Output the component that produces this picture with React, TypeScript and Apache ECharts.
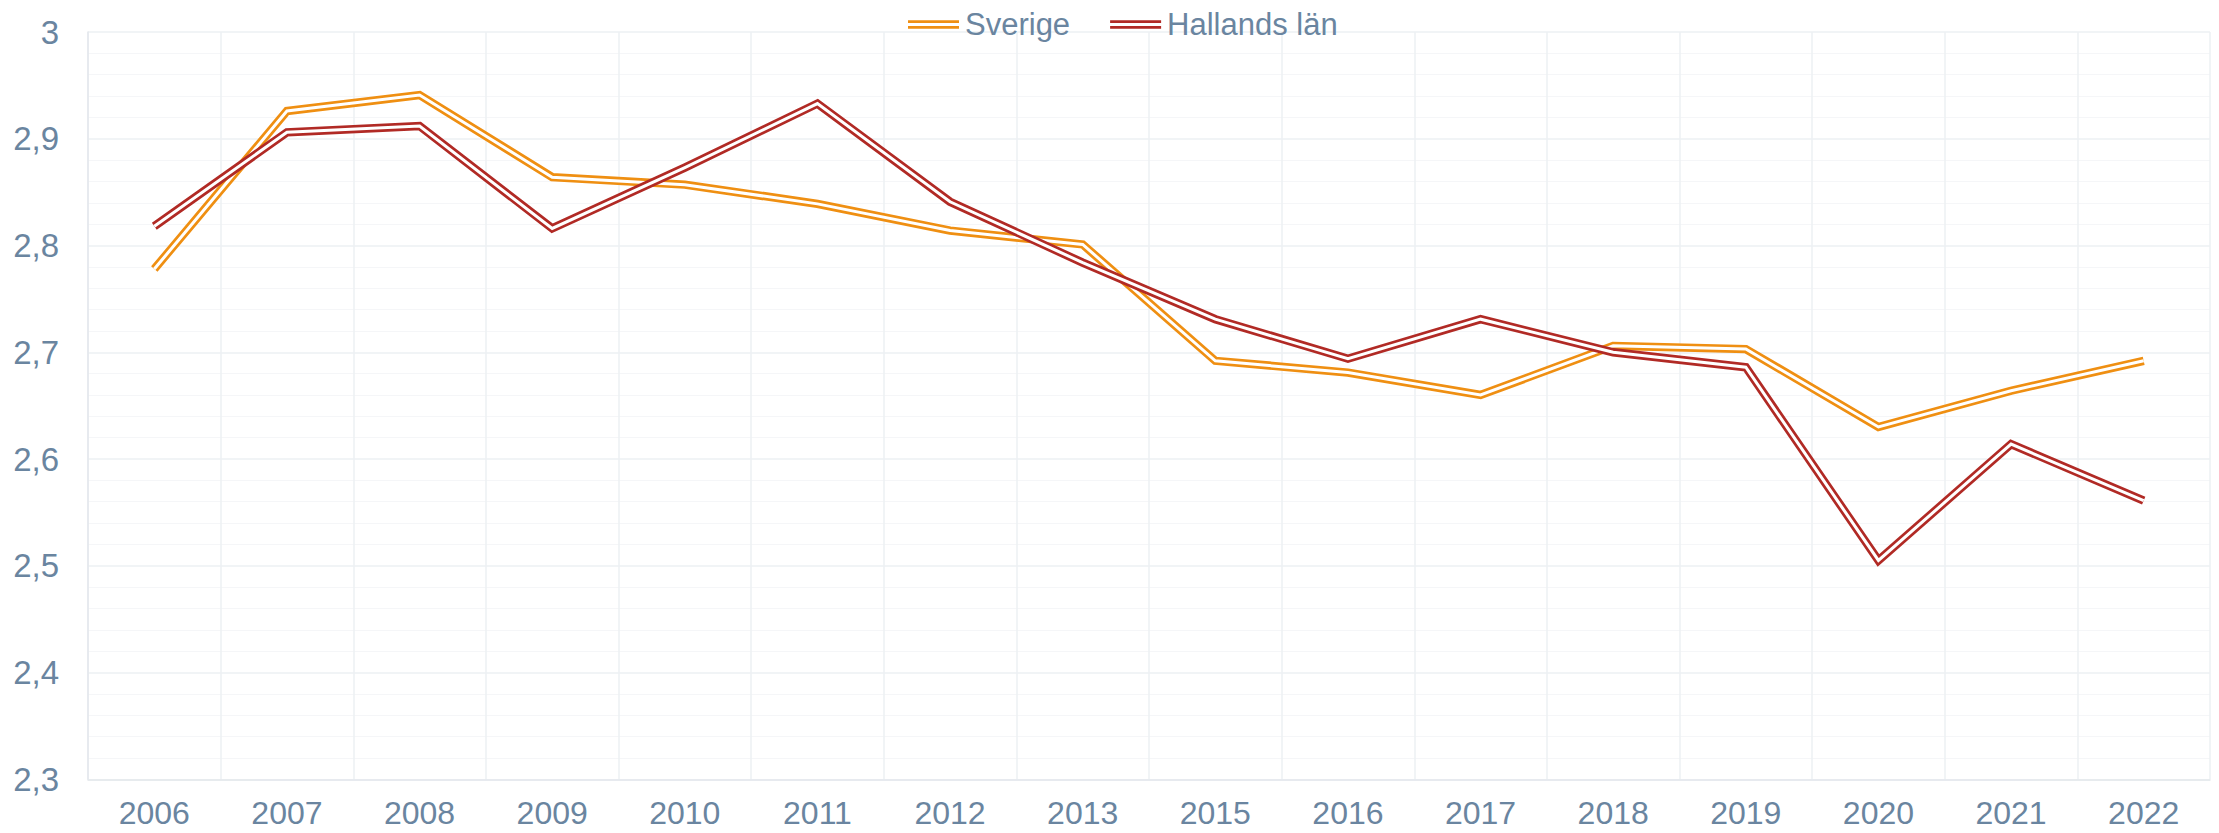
import React, { useEffect, useRef } from "react";
import * as echarts from "echarts";

const years = ["2006", "2007", "2008", "2009", "2010", "2011", "2012", "2013", "2015", "2016", "2017", "2018", "2019", "2020", "2021", "2022"];
const sverige = [2.778, 2.926, 2.941, 2.864, 2.857, 2.839, 2.814, 2.801, 2.692, 2.681, 2.660, 2.706, 2.703, 2.630, 2.664, 2.692];
const hallands = [2.818, 2.906, 2.912, 2.816, 2.873, 2.933, 2.841, 2.784, 2.731, 2.694, 2.731, 2.700, 2.686, 2.505, 2.614, 2.561];
const yTicks = { min: 2.3, max: 3, interval: 0.1 };

const ORANGE = "#ef8f12";
const RED = "#b12a25";
const TEXT = "#6a85a0";
const FONT = "Liberation Sans, Arial, sans-serif";
const ICON = "path://M0,0H51V2.7H0Z M0,5.8H51V8.5H0Z";

export default function App() {
  const ref = useRef<HTMLDivElement>(null);
  useEffect(() => {
    if (!ref.current) return;
    const chart = echarts.init(ref.current, undefined, { renderer: "svg" });
    const outer = (name: string, data: number[], color: string) => ({
      name,
      type: "line",
      data,
      color,
      symbol: "none",
      lineStyle: { color, width: 8.4, join: "miter", miterLimit: 10, cap: "butt" },
      itemStyle: { color },
    });
    const inner = (name: string, data: number[]) => ({
      name,
      type: "line",
      data,
      symbol: "none",
      color: "#ffffff",
      lineStyle: { color: "#ffffff", width: 3.0, join: "miter", miterLimit: 10, cap: "butt" },
    });
    chart.setOption({
      animation: false,
      backgroundColor: "#ffffff",
      textStyle: { fontFamily: FONT },
      legend: {
        top: 4,
        left: 903,
        data: [
          { name: "Sverige", icon: ICON },
          { name: "Hallands län", icon: ICON },
        ],
        itemWidth: 51,
        itemHeight: 8.5,
        itemGap: 40,
        itemStyle: { borderWidth: 0 },
        textStyle: { color: TEXT, fontSize: 31, fontFamily: FONT, padding: [0, 0, 0, 1] },
      },
      grid: { left: 88, right: 9, top: 32, bottom: 53.7, containLabel: false },
      xAxis: {
        type: "category",
        data: years,
        boundaryGap: true,
        axisLine: { show: true, lineStyle: { color: "#e3e7ec", width: 1.5 } },
        axisTick: { show: false },
        axisLabel: { color: TEXT, fontSize: 32, lineHeight: 28, fontFamily: FONT, margin: 20, interval: 0 },
        splitLine: { show: true, interval: 0, lineStyle: { color: "#edf0f3", width: 1.5 } },
      },
      yAxis: {
        type: "value",
        min: yTicks.min,
        max: yTicks.max,
        interval: yTicks.interval,
        axisLine: { show: true, lineStyle: { color: "#e3e7ec", width: 1.5 } },
        axisTick: { show: false },
        axisLabel: {
          color: TEXT,
          fontSize: 33,
          fontFamily: FONT,
          margin: 29,
          formatter: (v: number) => String(Math.round(v * 10) / 10).replace(".", ","),
        },
        splitLine: { show: true, lineStyle: { color: "#edf0f3", width: 1.5 } },
        minorTick: { show: false, splitNumber: 5 },
        minorSplitLine: { show: true, lineStyle: { color: "#f5f6f8", width: 1.2 } },
      },
      series: [
        outer("Sverige", sverige, ORANGE),
        inner("Sverige_inner", sverige),
        outer("Hallands län", hallands, RED),
        inner("Hallands_inner", hallands),
      ],
    });
    return () => chart.dispose();
  }, []);
  return (
    <div
      ref={ref}
      style={{ position: "fixed", left: 0, top: 0, width: 2219, height: 833, background: "#fff" }}
    />
  );
}
